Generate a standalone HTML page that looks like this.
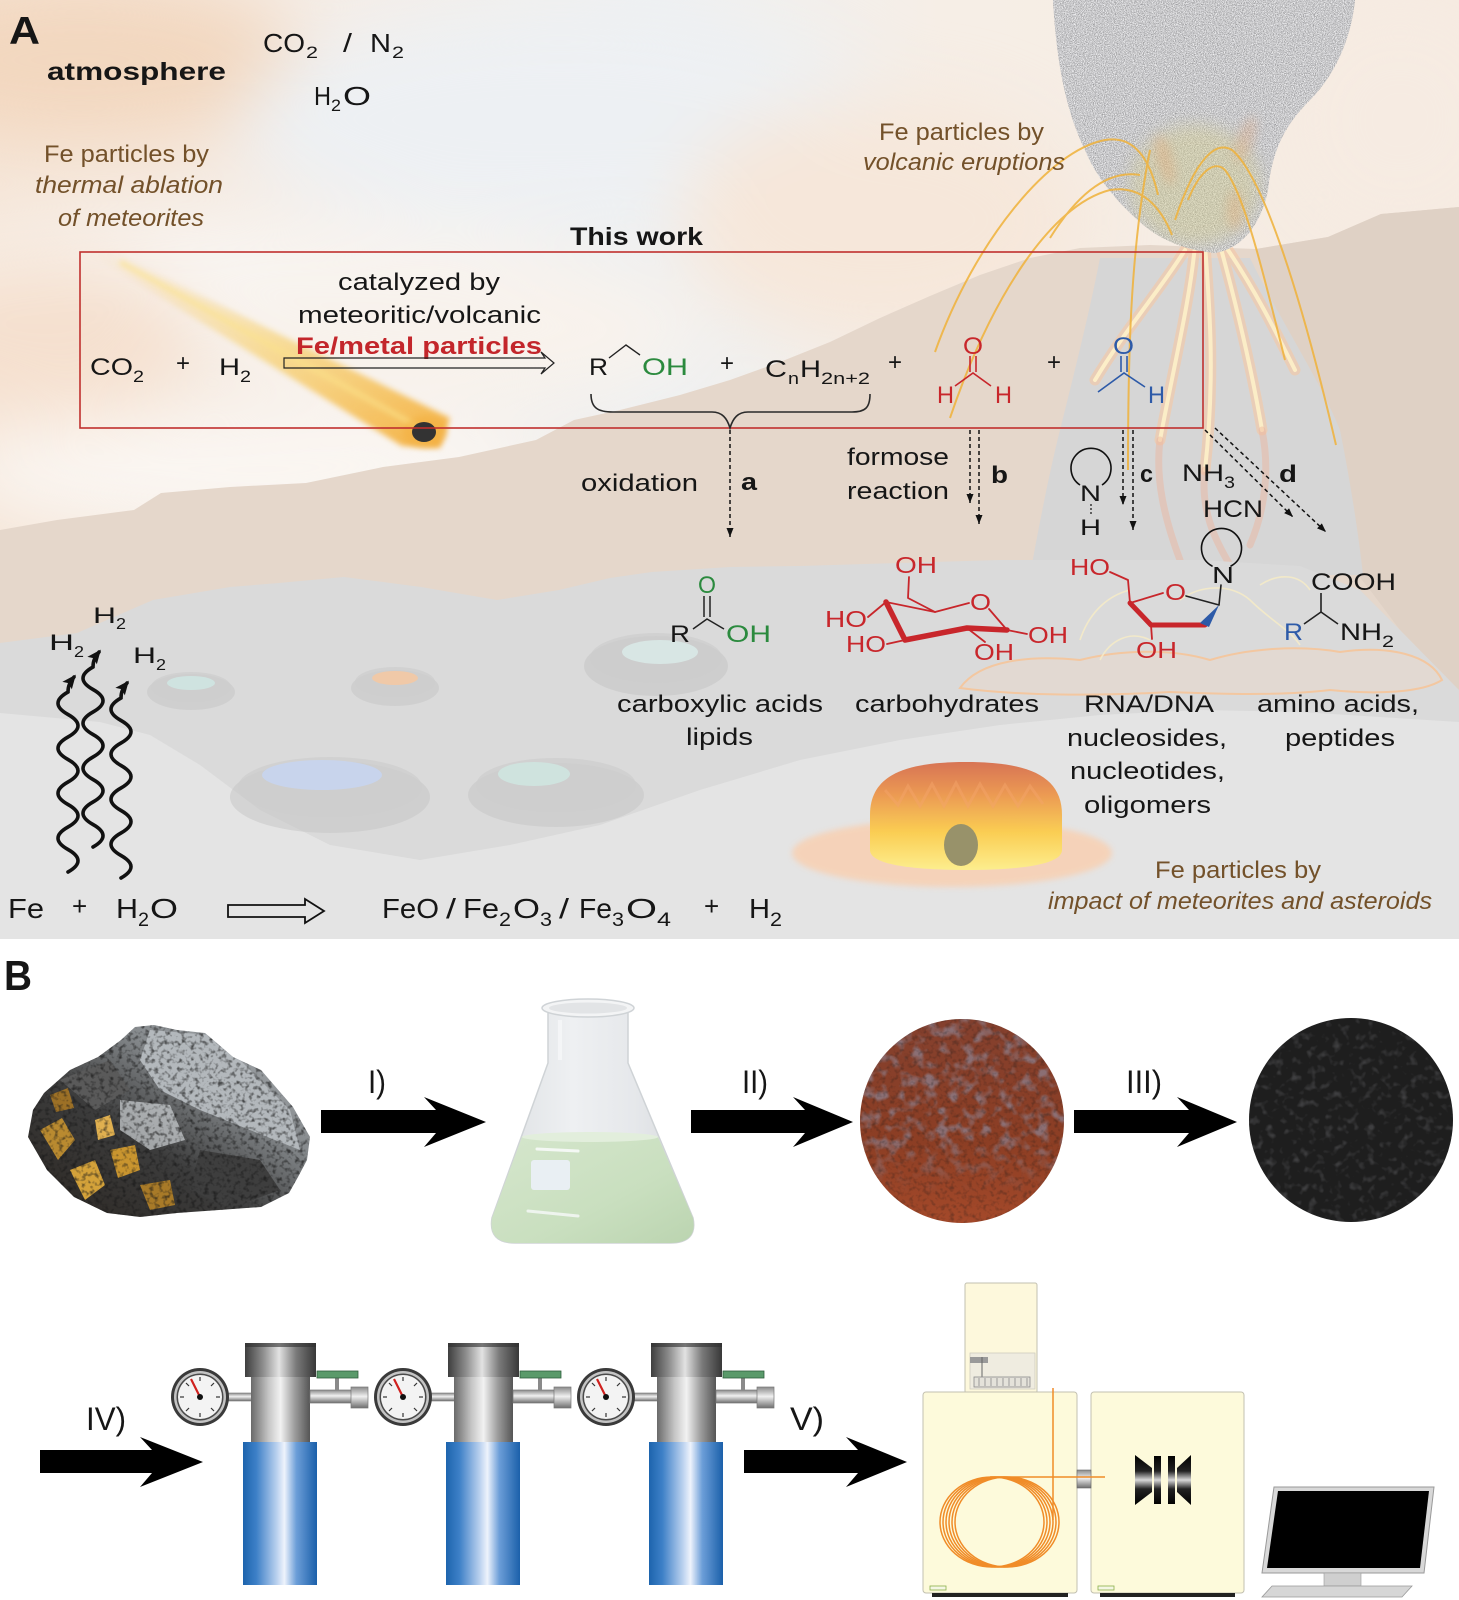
<!DOCTYPE html>
<html><head><meta charset="utf-8"><style>
html,body{margin:0;padding:0;background:#fff;}
svg{display:block;}
text{font-family:"Liberation Sans",Arial,sans-serif;fill:#161616;}
.b{font-weight:bold;}
.i{font-style:italic;}
.br{fill:#73512a;}
.rd{fill:#c8262b;}
.gr{fill:#2b8a3e;}
.bl{fill:#2d5aa8;}
</style></head><body>
<svg width="1459" height="1600" viewBox="0 0 1459 1600" xmlns="http://www.w3.org/2000/svg">
<defs>
 <clipPath id="clipA"><rect x="0" y="0" width="1459" height="939"/></clipPath>
 <linearGradient id="sky" x1="0" y1="0" x2="1" y2="0">
  <stop offset="0" stop-color="#f6e6d8"/><stop offset="0.25" stop-color="#f5eee8"/>
  <stop offset="0.45" stop-color="#eff1f2"/><stop offset="0.65" stop-color="#f6eee6"/>
  <stop offset="1" stop-color="#f6ebe1"/>
 </linearGradient>
 <filter id="bigblur" x="-50%" y="-50%" width="200%" height="200%" color-interpolation-filters="sRGB"><feGaussianBlur stdDeviation="35"/></filter>
 <filter id="blur8" x="-50%" y="-50%" width="200%" height="200%" color-interpolation-filters="sRGB"><feGaussianBlur stdDeviation="8"/></filter>
 <filter id="blur5" x="-50%" y="-50%" width="200%" height="200%" color-interpolation-filters="sRGB"><feGaussianBlur stdDeviation="5"/></filter>
 <filter id="blur3" x="-50%" y="-50%" width="200%" height="200%" color-interpolation-filters="sRGB"><feGaussianBlur stdDeviation="3"/></filter>
 <filter id="noiseGray" x="0" y="0" width="100%" height="100%" color-interpolation-filters="sRGB">
  <feTurbulence type="fractalNoise" baseFrequency="1.1" numOctaves="2" seed="4"/>
  <feColorMatrix type="matrix" values="0.9 0 0 0 0.34  0.9 0 0 0 0.34  0.9 0 0 0 0.35  0 0 0 0 1"/>
 </filter>
 <filter id="speckDark" x="0" y="0" width="100%" height="100%" color-interpolation-filters="sRGB">
  <feTurbulence type="fractalNoise" baseFrequency="0.22" numOctaves="2" seed="7"/>
  <feColorMatrix type="matrix" values="0 0 0 0 0.1  0 0 0 0 0.1  0 0 0 0 0.1  3 0 0 0 -1.45"/>
 </filter>
 <filter id="speckLight" x="0" y="0" width="100%" height="100%" color-interpolation-filters="sRGB">
  <feTurbulence type="fractalNoise" baseFrequency="0.12" numOctaves="2" seed="11"/>
  <feColorMatrix type="matrix" values="0 0 0 0 0.33  0 0 0 0 0.33  0 0 0 0 0.34  3.2 0 0 0 -1.7"/>
 </filter>
 <filter id="speckGrayFlake" x="0" y="0" width="100%" height="100%" color-interpolation-filters="sRGB">
  <feTurbulence type="fractalNoise" baseFrequency="0.08" numOctaves="2" seed="21"/>
  <feColorMatrix type="matrix" values="0 0 0 0 0.55  0 0 0 0 0.46  0 0 0 0 0.49  4 0 0 0 -1.9"/>
 </filter>
 <linearGradient id="fadeG" x1="0" y1="0" x2="0" y2="1">
  <stop offset="0" stop-color="#fff"/><stop offset="0.55" stop-color="#fff"/><stop offset="0.8" stop-color="#000"/>
 </linearGradient>
 <mask id="fadeMask" maskUnits="userSpaceOnUse" x="850" y="1010" width="230" height="230">
  <rect x="850" y="1010" width="230" height="230" fill="url(#fadeG)"/>
 </mask>
 <clipPath id="plumeClip"><path d="M1053,0 L1355,0 C1352,30 1340,70 1310,100 C1285,125 1272,150 1268,190 C1262,220 1245,248 1215,253 C1185,250 1160,240 1140,222 C1115,200 1095,175 1085,150 C1068,115 1057,70 1053,0 Z"/></clipPath>
 <linearGradient id="fire" x1="0" y1="0" x2="0" y2="1">
  <stop offset="0" stop-color="#d66a48"/><stop offset="0.3" stop-color="#ec9346"/>
  <stop offset="0.65" stop-color="#fbcd4a"/><stop offset="1" stop-color="#fdf08a"/>
 </linearGradient>
 <linearGradient id="meteorG" x1="0" y1="0" x2="1" y2="1">
  <stop offset="0" stop-color="#f7d070" stop-opacity="0"/><stop offset="0.5" stop-color="#f6c443" stop-opacity="0.5"/>
  <stop offset="1" stop-color="#f3a830" stop-opacity="0.9"/>
 </linearGradient>
 <marker id="ah" markerWidth="9" markerHeight="7" refX="9" refY="3.5" orient="auto" markerUnits="userSpaceOnUse" viewBox="0 0 9 7">
  <path d="M0,0 L9,3.5 L0,7 Z" fill="#111"/>
 </marker>
 <marker id="ahw" markerWidth="14" markerHeight="12" refX="11" refY="6" orient="auto" markerUnits="userSpaceOnUse" viewBox="0 0 14 12">
  <path d="M0,0 L14,6 L0,12 L3,6 Z" fill="#111"/>
 </marker>
 <!-- panel B gradients -->
 <linearGradient id="rockG" x1="1" y1="0" x2="0" y2="1">
  <stop offset="0" stop-color="#b4b9bd"/><stop offset="0.35" stop-color="#85898c"/>
  <stop offset="0.6" stop-color="#3c3c3c"/><stop offset="1" stop-color="#2a2520"/>
 </linearGradient>
 <linearGradient id="glassG" x1="0" y1="0" x2="1" y2="0">
  <stop offset="0" stop-color="#dcdfe2"/><stop offset="0.4" stop-color="#eef0f2"/>
  <stop offset="0.7" stop-color="#e6e8eb"/><stop offset="1" stop-color="#d7dadd"/>
 </linearGradient>
 <linearGradient id="liqG" x1="0" y1="0" x2="1" y2="1">
  <stop offset="0" stop-color="#d5e6cc"/><stop offset="0.6" stop-color="#c9dfbf"/><stop offset="1" stop-color="#bbd4b0"/>
 </linearGradient>
 <linearGradient id="redG" x1="0" y1="0" x2="0" y2="1">
  <stop offset="0" stop-color="#84402e"/><stop offset="0.6" stop-color="#8c3e24"/><stop offset="1" stop-color="#a4492a"/>
 </linearGradient>
 <linearGradient id="capG" x1="0" y1="0" x2="1" y2="0">
  <stop offset="0" stop-color="#3e3e3e"/><stop offset="0.25" stop-color="#8c8c8c"/>
  <stop offset="0.48" stop-color="#e2e2e2"/><stop offset="0.72" stop-color="#7a7a7a"/><stop offset="1" stop-color="#383838"/>
 </linearGradient>
 <linearGradient id="bodyG" x1="0" y1="0" x2="1" y2="0">
  <stop offset="0" stop-color="#6a6a6a"/><stop offset="0.3" stop-color="#c6c6c6"/>
  <stop offset="0.5" stop-color="#f2f2f2"/><stop offset="0.75" stop-color="#9a9a9a"/><stop offset="1" stop-color="#555"/>
 </linearGradient>
 <linearGradient id="blueG" x1="0" y1="0" x2="1" y2="0">
  <stop offset="0" stop-color="#1d64ad"/><stop offset="0.18" stop-color="#3d80c7"/>
  <stop offset="0.45" stop-color="#b7cfee"/><stop offset="0.56" stop-color="#eef3fc"/>
  <stop offset="0.72" stop-color="#6c9ed8"/><stop offset="1" stop-color="#1b60aa"/>
 </linearGradient>
 <linearGradient id="pipeG" x1="0" y1="0" x2="0" y2="1">
  <stop offset="0" stop-color="#8a8a8a"/><stop offset="0.45" stop-color="#f0f0f0"/><stop offset="1" stop-color="#6e6e6e"/>
 </linearGradient>
 <linearGradient id="quadG" x1="0" y1="0" x2="0" y2="1">
  <stop offset="0" stop-color="#000"/><stop offset="0.32" stop-color="#222"/>
  <stop offset="0.5" stop-color="#d8d8d8"/><stop offset="0.68" stop-color="#222"/><stop offset="1" stop-color="#000"/>
 </linearGradient>
 <g id="reactor">
  <rect x="224" y="1393" width="28" height="8" fill="url(#pipeG)" stroke="#777" stroke-width="0.6"/>
  <circle cx="200" cy="1397" r="29" fill="#3a3a3a"/>
  <circle cx="200" cy="1397" r="26" fill="#c4c4c4"/>
  <circle cx="200" cy="1397" r="23.5" fill="#4a4a4a"/>
  <circle cx="200" cy="1397" r="22" fill="#f3f3f3"/>
  <g stroke="#333" stroke-width="1.2">
   <line x1="200" y1="1377" x2="200" y2="1381"/><line x1="200" y1="1413" x2="200" y2="1417"/>
   <line x1="180" y1="1397" x2="184" y2="1397"/><line x1="216" y1="1397" x2="220" y2="1397"/>
   <line x1="186" y1="1383" x2="189" y2="1386"/><line x1="214" y1="1383" x2="211" y2="1386"/>
   <line x1="186" y1="1411" x2="189" y2="1408"/><line x1="214" y1="1411" x2="211" y2="1408"/>
  </g>
  <line x1="200" y1="1397" x2="191" y2="1379" stroke="#d0201e" stroke-width="2.2"/>
  <circle cx="200" cy="1397" r="3" fill="#111"/>
  <rect x="243" y="1442" width="74" height="143" fill="url(#blueG)"/>
  <rect x="251" y="1377" width="59" height="65" fill="url(#bodyG)"/>
  <rect x="245" y="1343" width="71" height="34" fill="url(#capG)"/>
  <rect x="245" y="1343" width="71" height="4" fill="#2e2e2e" opacity="0.6"/>
  <rect x="310" y="1390" width="44" height="13" fill="url(#pipeG)" stroke="#777" stroke-width="0.7"/>
  <rect x="351" y="1387" width="17" height="21" fill="url(#pipeG)" stroke="#777" stroke-width="0.7"/>
  <rect x="335" y="1377" width="4" height="13" fill="#8a8a8a"/>
  <rect x="317" y="1371" width="41" height="7" fill="#5a9a6a" stroke="#2f5f3c" stroke-width="0.8"/>
 </g>
</defs>

<!-- ================= PANEL A ================= -->
<g clip-path="url(#clipA)">
 <rect x="0" y="0" width="1459" height="939" fill="url(#sky)"/>
 <g filter="url(#bigblur)">
  <ellipse cx="80" cy="60" rx="220" ry="80" fill="#f2d7bf"/>
  <ellipse cx="560" cy="120" rx="320" ry="110" fill="#edf0f3"/>
  <ellipse cx="230" cy="265" rx="330" ry="45" fill="#f8f5f2"/>
  <ellipse cx="40" cy="340" rx="150" ry="80" fill="#f5e0cf"/>
  <ellipse cx="250" cy="470" rx="300" ry="60" fill="#faf6f2"/>
  <ellipse cx="450" cy="330" rx="250" ry="70" fill="#f8f2ec"/>
  <ellipse cx="880" cy="220" rx="200" ry="120" fill="#f6e7da"/>
  <ellipse cx="1400" cy="120" rx="120" ry="120" fill="#f6ebe2"/>
 </g>

 <!-- tan hills -->
 <path d="M0,530 L57,520 L134,510 L161,493 L230,487 L306,483 L383,467 L459,457 L536,440 L574,420 L620,410 L680,395 L730,380 L780,362 L830,342 L880,318 L930,296 L980,275 L1030,258 L1080,248 L1150,245 L1256,249 L1328,237 L1381,214 L1459,207 L1459,939 L0,939 Z" fill="#e5d7cb"/>
 <path d="M1256,249 L1328,237 L1381,214 L1459,207 L1459,700 L1400,630 L1370,590 L1350,565 Z" fill="#dfd1c5"/>

 <!-- volcano cone -->
 <path d="M1100,258 L1250,258 C1280,320 1320,380 1340,430 C1350,480 1358,530 1363,575 L1030,575 C1040,520 1050,470 1060,430 C1075,370 1090,310 1100,258 Z" fill="#d6d6d6"/>

 <!-- lava -->
 <g fill="none" stroke-linecap="round">
  <g stroke="#f6c8a4" stroke-width="11" opacity="0.6">
   <path d="M1195,245 C1190,300 1175,360 1160,440"/>
   <path d="M1205,245 C1210,310 1215,380 1205,470"/>
   <path d="M1220,245 C1235,300 1250,360 1262,430"/>
   <path d="M1185,250 C1160,290 1125,330 1095,380"/>
   <path d="M1228,250 C1255,290 1275,330 1295,370"/>
  </g>
  <g stroke="#fdefc8" stroke-width="4" opacity="0.95">
   <path d="M1195,245 C1190,300 1175,360 1160,440"/>
   <path d="M1205,245 C1210,310 1215,380 1205,470"/>
   <path d="M1220,245 C1235,300 1250,360 1262,430"/>
   <path d="M1185,250 C1160,290 1125,330 1095,380"/>
   <path d="M1228,250 C1255,290 1275,330 1295,370"/>
  </g>
  <g stroke="#eeb49c" stroke-width="7" opacity="0.45">
   <path d="M1160,440 C1155,480 1165,520 1180,560"/>
   <path d="M1205,470 C1200,510 1215,540 1230,565"/>
   <path d="M1262,430 C1270,470 1265,510 1250,545"/>
  </g>
 </g>

 <!-- gray ground -->
 <path d="M0,643 L77,633 L153,600 L230,587 L279,583 L344,577 L421,587 L497,600 L559,590 L610,578 L652,572 L730,567 L800,566 L900,563 L1000,560 L1100,560 L1200,560 L1300,566 L1360,590 L1400,630 L1459,690 L1459,939 L0,939 Z" fill="#dadada"/>
 <path d="M0,713 L100,722 L150,735 L200,765 L260,810 L330,845 L420,860 L510,845 L600,825 L700,790 L800,760 L900,740 L1000,725 L1100,715 L1200,710 L1300,712 L1459,722 L1459,939 L0,939 Z" fill="#e4e4e4"/>

 <!-- craters -->
 <g>
  <ellipse cx="191" cy="692" rx="44" ry="18" fill="#c6c6c6" opacity="0.55"/>
  <ellipse cx="191" cy="687" rx="40" ry="15" fill="#cdcdcd" opacity="0.7"/>
  <ellipse cx="191" cy="683" rx="24" ry="7" fill="#cfe3e0"/>
  <ellipse cx="395" cy="688" rx="44" ry="18" fill="#c6c6c6" opacity="0.55"/>
  <ellipse cx="395" cy="682" rx="40" ry="15" fill="#cdcdcd" opacity="0.7"/>
  <ellipse cx="395" cy="678" rx="23" ry="7" fill="#f0c9a8"/>
  <ellipse cx="656" cy="666" rx="72" ry="30" fill="#c4c4c4" opacity="0.55"/>
  <ellipse cx="656" cy="658" rx="66" ry="25" fill="#cdcdcd" opacity="0.7"/>
  <ellipse cx="660" cy="652" rx="38" ry="12" fill="#d8e6e4"/>
  <ellipse cx="330" cy="797" rx="100" ry="36" fill="#c6c6c6" opacity="0.55"/>
  <ellipse cx="330" cy="787" rx="92" ry="30" fill="#cdcdcd" opacity="0.7"/>
  <ellipse cx="322" cy="775" rx="60" ry="15" fill="#c8d4ec"/>
  <ellipse cx="556" cy="795" rx="88" ry="32" fill="#c6c6c6" opacity="0.55"/>
  <ellipse cx="556" cy="785" rx="80" ry="27" fill="#cdcdcd" opacity="0.7"/>
  <ellipse cx="534" cy="774" rx="36" ry="12" fill="#cfe3de"/>
 </g>

 <!-- rocks near amino acids -->
 <g fill="#ecd8c8" fill-opacity="0.45" stroke="#f3c7a0" stroke-width="2">
  <path d="M960,688 C980,660 1030,655 1080,660 C1120,650 1170,648 1210,660 C1250,648 1300,645 1340,652 C1390,645 1430,655 1442,680 C1420,694 1370,694 1330,690 C1280,696 1220,694 1170,692 C1100,696 1020,696 960,688 Z"/>
 </g>
 <g fill="none" stroke="#f5ebc8" stroke-width="1.6" opacity="0.9">
  <path d="M1080,640 C1090,610 1110,595 1130,590"/>
  <path d="M1180,600 C1200,585 1230,583 1250,600 C1270,620 1290,630 1300,645"/>
  <path d="M1260,585 C1280,572 1300,575 1310,590"/>
  <path d="M1100,660 C1110,640 1130,630 1150,640"/>
 </g>

 <!-- plume -->
 <rect x="1040" y="0" width="330" height="260" fill="#c2c2c2" clip-path="url(#plumeClip)"/>
 <g clip-path="url(#plumeClip)">
  <rect x="1040" y="0" width="330" height="260" filter="url(#noiseGray)" opacity="0.85"/>
  <ellipse cx="1195" cy="185" rx="65" ry="60" fill="#d8cf8c" opacity="0.4" filter="url(#blur8)"/>
  <ellipse cx="1165" cy="160" rx="8" ry="26" fill="#e9a06a" opacity="0.3" filter="url(#blur5)" transform="rotate(-15 1165 160)"/>
  <ellipse cx="1245" cy="140" rx="8" ry="24" fill="#e9a06a" opacity="0.28" filter="url(#blur5)" transform="rotate(20 1245 140)"/>
  <ellipse cx="1235" cy="210" rx="8" ry="20" fill="#e9a06a" opacity="0.28" filter="url(#blur5)"/>
 </g>

 <!-- orange arcs -->
 <g fill="none" stroke="#f0b23a" stroke-width="2" opacity="0.85">
  <path d="M935,352 C975,240 1050,150 1105,140 C1135,135 1150,160 1158,195"/>
  <path d="M950,418 C990,300 1050,205 1110,190 C1140,185 1160,205 1172,235"/>
  <path d="M1128,470 C1128,360 1130,250 1150,150"/>
  <path d="M1175,220 C1195,160 1215,140 1232,150 C1262,175 1300,290 1336,445"/>
  <path d="M1188,200 C1200,170 1215,160 1225,170 C1245,195 1265,280 1285,360"/>
  <path d="M1050,238 C1080,190 1110,170 1140,175"/>
 </g>

 <!-- meteor -->
 <g filter="url(#blur3)">
  <polygon points="88,252 112,252 450,418 440,448 402,446" fill="url(#meteorG)"/>
  <line x1="120" y1="262" x2="420" y2="428" stroke="#fbe28a" stroke-width="5" opacity="0.7"/>
 </g>
 <ellipse cx="425" cy="432" rx="22" ry="16" fill="#f3b040" opacity="0.55" filter="url(#blur3)"/>
 <ellipse cx="424" cy="432" rx="12" ry="10" fill="#333"/>

 <!-- impact fireball -->
 <ellipse cx="952" cy="853" rx="160" ry="34" fill="#f8d0b2" opacity="0.85" filter="url(#blur3)"/>
 <path d="M870,850 L870,815 C870,775 905,762 966,762 C1027,762 1062,775 1062,815 L1062,850 C1062,866 1012,870 966,870 C920,870 870,866 870,850 Z" fill="url(#fire)" opacity="0.92"/>
 <path d="M885,790 L898,805 L908,786 L920,806 L932,784 L944,806 L956,783 L968,806 L980,784 L993,806 L1005,785 L1018,806 L1030,786 L1043,804" fill="none" stroke="#f3a36a" stroke-width="3" opacity="0.5"/>
 <ellipse cx="961" cy="845" rx="17" ry="21" fill="#98926a"/>
</g>

<!-- Panel A text -->
<text x="9" y="44" class="b" font-size="39" textLength="31" lengthAdjust="spacingAndGlyphs">A</text>
<text x="47" y="80" class="b" font-size="25" textLength="179" lengthAdjust="spacingAndGlyphs">atmosphere</text>
<text x="263" y="52" font-size="26" textLength="42" lengthAdjust="spacingAndGlyphs">CO</text>
<text x="306" y="58" font-size="17" textLength="12" lengthAdjust="spacingAndGlyphs">2</text>
<text x="343" y="52" font-size="26" textLength="9" lengthAdjust="spacingAndGlyphs">/</text>
<text x="370" y="52" font-size="26" textLength="21" lengthAdjust="spacingAndGlyphs">N</text>
<text x="392" y="58" font-size="17" textLength="12" lengthAdjust="spacingAndGlyphs">2</text>
<text x="314" y="105" font-size="26" textLength="17" lengthAdjust="spacingAndGlyphs">H</text>
<text x="331" y="111" font-size="17" textLength="10" lengthAdjust="spacingAndGlyphs">2</text>
<text x="343" y="105" font-size="26" textLength="28" lengthAdjust="spacingAndGlyphs">O</text>

<text x="44" y="162" class="br" font-size="24" textLength="165" lengthAdjust="spacingAndGlyphs">Fe particles by</text>
<text x="35" y="193" class="br i" font-size="24" textLength="188" lengthAdjust="spacingAndGlyphs">thermal ablation</text>
<text x="58" y="226" class="br i" font-size="24" textLength="146" lengthAdjust="spacingAndGlyphs">of meteorites</text>
<text x="879" y="140" class="br" font-size="24" textLength="165" lengthAdjust="spacingAndGlyphs">Fe particles by</text>
<text x="863" y="170" class="br i" font-size="24" textLength="202" lengthAdjust="spacingAndGlyphs">volcanic eruptions</text>
<text x="1155" y="878" class="br" font-size="24" textLength="166" lengthAdjust="spacingAndGlyphs">Fe particles by</text>
<text x="1048" y="909" class="br i" font-size="24" textLength="384" lengthAdjust="spacingAndGlyphs">impact of meteorites and asteroids</text>

<!-- red box -->
<rect x="80" y="252" width="1123" height="176" fill="none" stroke="#c0302e" stroke-width="1.6"/>
<text x="570" y="245" class="b" font-size="25" textLength="133" lengthAdjust="spacingAndGlyphs">This work</text>
<text x="338" y="290" font-size="24" textLength="162" lengthAdjust="spacingAndGlyphs">catalyzed by</text>
<text x="298" y="323" font-size="24" textLength="243" lengthAdjust="spacingAndGlyphs">meteoritic/volcanic</text>
<text x="296" y="354" class="b" font-size="24" textLength="246" lengthAdjust="spacingAndGlyphs" style="fill:#c3262b">Fe/metal particles</text>
<path d="M284,358 L545,358 L541,352 L554,363 L541,374 L545,368 L284,368 Z" fill="none" stroke="#222" stroke-width="1.2"/>
<text x="90" y="375" font-size="24" textLength="43" lengthAdjust="spacingAndGlyphs">CO</text>
<text x="133" y="382" font-size="17" textLength="11" lengthAdjust="spacingAndGlyphs">2</text>
<text x="176" y="371" font-size="24">+</text>
<text x="219" y="375" font-size="24" textLength="21" lengthAdjust="spacingAndGlyphs">H</text>
<text x="240" y="382" font-size="17" textLength="11" lengthAdjust="spacingAndGlyphs">2</text>
<text x="589" y="375" font-size="24" textLength="19" lengthAdjust="spacingAndGlyphs">R</text>
<path d="M609,358 L626,345 L640,355" fill="none" stroke="#222" stroke-width="1.4"/>
<text x="642" y="375" class="gr" font-size="24" textLength="46" lengthAdjust="spacingAndGlyphs">OH</text>
<text x="720" y="371" font-size="24">+</text>
<text x="765" y="377" font-size="24" textLength="22" lengthAdjust="spacingAndGlyphs">C</text>
<text x="788" y="384" font-size="17" textLength="11" lengthAdjust="spacingAndGlyphs">n</text>
<text x="800" y="377" font-size="24" textLength="21" lengthAdjust="spacingAndGlyphs">H</text>
<text x="821" y="384" font-size="17" textLength="49" lengthAdjust="spacingAndGlyphs">2n+2</text>
<text x="888" y="370" font-size="24">+</text>
<!-- formaldehyde -->
<text x="963" y="354" class="rd" font-size="24" textLength="20" lengthAdjust="spacingAndGlyphs">O</text>
<g stroke="#c8262b" stroke-width="1.6" fill="none">
 <line x1="970" y1="356" x2="970" y2="372"/><line x1="976" y1="356" x2="976" y2="372"/>
 <path d="M955,386 L973,373 L991,386"/>
</g>
<text x="937" y="403" class="rd" font-size="24" textLength="17" lengthAdjust="spacingAndGlyphs">H</text>
<text x="995" y="403" class="rd" font-size="24" textLength="17" lengthAdjust="spacingAndGlyphs">H</text>
<text x="1047" y="370" font-size="24">+</text>
<!-- acetaldehyde -->
<text x="1113" y="354" class="bl" font-size="24" textLength="21" lengthAdjust="spacingAndGlyphs">O</text>
<g stroke="#2d5aa8" stroke-width="1.6" fill="none">
 <line x1="1121" y1="356" x2="1121" y2="372"/><line x1="1127" y1="356" x2="1127" y2="372"/>
 <path d="M1098,392 L1124,373 L1145,387"/>
</g>
<text x="1148" y="403" class="bl" font-size="24" textLength="17" lengthAdjust="spacingAndGlyphs">H</text>

<!-- brace -->
<path d="M591,394 C591,408 598,412 613,412 L712,412 C722,412 727,418 730,428 C733,418 738,412 748,412 L852,412 C865,412 870,408 870,394" fill="none" stroke="#2a2a2a" stroke-width="1.6"/>

<!-- dashed arrows -->
<g stroke="#111" stroke-width="1.5" stroke-dasharray="4 3" fill="none">
 <line x1="730" y1="430" x2="730" y2="537" marker-end="url(#ah)"/>
 <line x1="970" y1="430" x2="970" y2="503" marker-end="url(#ah)"/>
 <line x1="979" y1="430" x2="979" y2="524" marker-end="url(#ah)"/>
 <line x1="1123" y1="430" x2="1123" y2="505" marker-end="url(#ah)"/>
 <line x1="1133" y1="430" x2="1133" y2="530" marker-end="url(#ah)"/>
 <line x1="1205" y1="430" x2="1293" y2="517" marker-end="url(#ah)"/>
 <line x1="1215" y1="428" x2="1326" y2="532" marker-end="url(#ah)"/>
</g>
<text x="581" y="491" font-size="24" textLength="117" lengthAdjust="spacingAndGlyphs">oxidation</text>
<text x="741" y="490" class="b" font-size="24" textLength="16" lengthAdjust="spacingAndGlyphs">a</text>
<text x="847" y="465" font-size="24" textLength="102" lengthAdjust="spacingAndGlyphs">formose</text>
<text x="847" y="499" font-size="24" textLength="102" lengthAdjust="spacingAndGlyphs">reaction</text>
<text x="991" y="483" class="b" font-size="24" textLength="17" lengthAdjust="spacingAndGlyphs">b</text>
<path d="M1080,485 A20,20 0 1 1 1102,485" fill="none" stroke="#111" stroke-width="1.6"/>
<text x="1080" y="501" font-size="22" textLength="21" lengthAdjust="spacingAndGlyphs">N</text>
<line x1="1091" y1="504" x2="1091" y2="515" stroke="#111" stroke-width="1.2" stroke-dasharray="2 2"/>
<text x="1080" y="535" font-size="22" textLength="21" lengthAdjust="spacingAndGlyphs">H</text>
<text x="1140" y="482" class="b" font-size="24" textLength="13" lengthAdjust="spacingAndGlyphs">c</text>
<text x="1182" y="481" font-size="24" textLength="42" lengthAdjust="spacingAndGlyphs">NH</text>
<text x="1224" y="488" font-size="17" textLength="11" lengthAdjust="spacingAndGlyphs">3</text>
<text x="1203" y="517" font-size="24" textLength="60" lengthAdjust="spacingAndGlyphs">HCN</text>
<text x="1279" y="482" class="b" font-size="24" textLength="18" lengthAdjust="spacingAndGlyphs">d</text>

<!-- carboxylic acid -->
<text x="698" y="593" class="gr" font-size="24" textLength="18" lengthAdjust="spacingAndGlyphs">O</text>
<g stroke="#222" stroke-width="1.5" fill="none">
 <line x1="704" y1="596" x2="704" y2="617"/><line x1="710" y1="596" x2="710" y2="617"/>
 <path d="M693,629 L707,619 L724,629"/>
</g>
<text x="670" y="642" font-size="24" textLength="20" lengthAdjust="spacingAndGlyphs">R</text>
<text x="726" y="642" class="gr" font-size="24" textLength="45" lengthAdjust="spacingAndGlyphs">OH</text>

<!-- glucose -->
<g stroke="#c8262b" fill="none" stroke-linecap="round" stroke-linejoin="round">
 <path d="M935,612 L908,598 L909,577" stroke-width="1.8"/>
 <path d="M886,602 L935,612 L969,603" stroke-width="1.8"/>
 <path d="M989,609 L1007,630 L1027,634" stroke-width="1.8"/>
 <path d="M868,617 L886,602" stroke-width="1.8"/>
 <path d="M887,644 L905,640" stroke-width="1.8"/>
 <path d="M967,628 L985,642" stroke-width="1.8"/>
 <path d="M886,602 L905,640 L967,628 L1007,630" stroke-width="5.5"/>
</g>
<text x="895" y="573" class="rd" font-size="23" textLength="42" lengthAdjust="spacingAndGlyphs">OH</text>
<text x="970" y="610" class="rd" font-size="23" textLength="21" lengthAdjust="spacingAndGlyphs">O</text>
<text x="825" y="627" class="rd" font-size="23" textLength="42" lengthAdjust="spacingAndGlyphs">HO</text>
<text x="846" y="652" class="rd" font-size="23" textLength="40" lengthAdjust="spacingAndGlyphs">HO</text>
<text x="974" y="660" class="rd" font-size="23" textLength="40" lengthAdjust="spacingAndGlyphs">OH</text>
<text x="1028" y="643" class="rd" font-size="23" textLength="40" lengthAdjust="spacingAndGlyphs">OH</text>

<!-- nucleoside -->
<g fill="none" stroke-linecap="round" stroke-linejoin="round">
 <path d="M1110,572 L1128,580 L1130,603 L1163,593" stroke="#c8262b" stroke-width="1.8"/>
 <path d="M1186,596 L1219,605 L1221,585" stroke="#222" stroke-width="1.6"/>
 <path d="M1205,625 L1151,625 L1130,603" stroke="#c8262b" stroke-width="5"/>
 <path d="M1151,625 L1152,639" stroke="#c8262b" stroke-width="1.8"/>
 <path d="M1212,566 A20,20 0 1 1 1231,566" stroke="#111" stroke-width="1.6"/>
</g>
<polygon points="1219,605 1200,623 1209,627" fill="#2d5aa8"/>
<text x="1070" y="575" class="rd" font-size="23" textLength="40" lengthAdjust="spacingAndGlyphs">HO</text>
<text x="1165" y="600" class="rd" font-size="23" textLength="21" lengthAdjust="spacingAndGlyphs">O</text>
<text x="1212" y="583" font-size="23" textLength="22" lengthAdjust="spacingAndGlyphs">N</text>
<text x="1136" y="658" class="rd" font-size="23" textLength="41" lengthAdjust="spacingAndGlyphs">OH</text>

<!-- amino acid -->
<g stroke="#222" stroke-width="1.6" fill="none">
 <path d="M1321,593 L1321,612 L1304,624"/>
 <path d="M1321,612 L1338,624"/>
</g>
<text x="1311" y="590" font-size="24" textLength="85" lengthAdjust="spacingAndGlyphs">COOH</text>
<text x="1284" y="640" class="bl" font-size="24" textLength="19" lengthAdjust="spacingAndGlyphs">R</text>
<text x="1340" y="640" font-size="24" textLength="42" lengthAdjust="spacingAndGlyphs">NH</text>
<text x="1382" y="647" font-size="17" textLength="12" lengthAdjust="spacingAndGlyphs">2</text>

<!-- product labels -->
<text x="617" y="712" font-size="24" textLength="206" lengthAdjust="spacingAndGlyphs">carboxylic acids</text>
<text x="686" y="745" font-size="24" textLength="67" lengthAdjust="spacingAndGlyphs">lipids</text>
<text x="855" y="712" font-size="24" textLength="184" lengthAdjust="spacingAndGlyphs">carbohydrates</text>
<text x="1084" y="712" font-size="24" textLength="130" lengthAdjust="spacingAndGlyphs">RNA/DNA</text>
<text x="1067" y="746" font-size="24" textLength="160" lengthAdjust="spacingAndGlyphs">nucleosides,</text>
<text x="1070" y="779" font-size="24" textLength="155" lengthAdjust="spacingAndGlyphs">nucleotides,</text>
<text x="1084" y="813" font-size="24" textLength="127" lengthAdjust="spacingAndGlyphs">oligomers</text>
<text x="1257" y="712" font-size="24" textLength="162" lengthAdjust="spacingAndGlyphs">amino acids,</text>
<text x="1285" y="746" font-size="24" textLength="110" lengthAdjust="spacingAndGlyphs">peptides</text>

<!-- H2 wavy arrows -->
<g fill="none" stroke="#111" stroke-width="3.6" stroke-linecap="round">
 <path d="M68,872 q20,-11.25 0,-22.5 t0,-22.5 t0,-22.5 t0,-22.5 t0,-22.5 t0,-22.5 t0,-22.5 t0,-22.5 c0,-6 2,-10 6,-15" marker-end="url(#ahw)"/>
 <path d="M93,847 q20,-11.25 0,-22.5 t0,-22.5 t0,-22.5 t0,-22.5 t0,-22.5 t0,-22.5 t0,-22.5 t0,-22.5 c0,-6 2,-10 6,-15" marker-end="url(#ahw)"/>
 <path d="M121,878 q20,-11.25 0,-22.5 t0,-22.5 t0,-22.5 t0,-22.5 t0,-22.5 t0,-22.5 t0,-22.5 t0,-22.5 c0,-6 2,-10 6,-15" marker-end="url(#ahw)"/>
</g>
<text x="49" y="650" font-size="22" textLength="25" lengthAdjust="spacingAndGlyphs">H</text>
<text x="74" y="657" font-size="16" textLength="10" lengthAdjust="spacingAndGlyphs">2</text>
<text x="93" y="623" font-size="22" textLength="23" lengthAdjust="spacingAndGlyphs">H</text>
<text x="116" y="629" font-size="16" textLength="10" lengthAdjust="spacingAndGlyphs">2</text>
<text x="133" y="663" font-size="22" textLength="23" lengthAdjust="spacingAndGlyphs">H</text>
<text x="156" y="670" font-size="16" textLength="10" lengthAdjust="spacingAndGlyphs">2</text>

<!-- bottom equation -->
<text x="8" y="918" font-size="28" textLength="36" lengthAdjust="spacingAndGlyphs">Fe</text>
<text x="72" y="915" font-size="26">+</text>
<text x="116" y="918" font-size="28" textLength="22" lengthAdjust="spacingAndGlyphs">H</text>
<text x="138" y="926" font-size="19" textLength="11" lengthAdjust="spacingAndGlyphs">2</text>
<text x="150" y="918" font-size="28" textLength="28" lengthAdjust="spacingAndGlyphs">O</text>
<path d="M228,905 L305,905 L305,899 L324,911 L305,923 L305,917 L228,917 Z" fill="none" stroke="#111" stroke-width="1.8"/>
<text x="382" y="918" font-size="28" textLength="57" lengthAdjust="spacingAndGlyphs">FeO</text>
<text x="446" y="918" font-size="28" textLength="10" lengthAdjust="spacingAndGlyphs">/</text>
<text x="463" y="918" font-size="28" textLength="36" lengthAdjust="spacingAndGlyphs">Fe</text>
<text x="499" y="926" font-size="19" textLength="12" lengthAdjust="spacingAndGlyphs">2</text>
<text x="513" y="918" font-size="28" textLength="27" lengthAdjust="spacingAndGlyphs">O</text>
<text x="540" y="926" font-size="19" textLength="12" lengthAdjust="spacingAndGlyphs">3</text>
<text x="559" y="918" font-size="28" textLength="10" lengthAdjust="spacingAndGlyphs">/</text>
<text x="579" y="918" font-size="28" textLength="33" lengthAdjust="spacingAndGlyphs">Fe</text>
<text x="612" y="926" font-size="19" textLength="12" lengthAdjust="spacingAndGlyphs">3</text>
<text x="626" y="918" font-size="28" textLength="31" lengthAdjust="spacingAndGlyphs">O</text>
<text x="657" y="926" font-size="19" textLength="14" lengthAdjust="spacingAndGlyphs">4</text>
<text x="704" y="915" font-size="26">+</text>
<text x="749" y="918" font-size="28" textLength="21" lengthAdjust="spacingAndGlyphs">H</text>
<text x="770" y="926" font-size="19" textLength="12" lengthAdjust="spacingAndGlyphs">2</text>

<!-- ================= PANEL B ================= -->
<text x="4" y="990" class="b" font-size="42" textLength="28" lengthAdjust="spacingAndGlyphs">B</text>

<!-- meteorite rock -->
<clipPath id="rockClip"><polygon points="44,1093 70,1070 98,1057 121,1040 135,1027 154,1025 177,1030 205,1033 233,1057 261,1070 293,1107 310,1137 307,1160 298,1177 289,1193 261,1207 219,1210 177,1213 140,1217 107,1213 74,1197 47,1170 28,1137 33,1110"/></clipPath>
<g clip-path="url(#rockClip)">
 <rect x="20" y="1020" width="300" height="200" fill="url(#rockG)"/>
 <polygon points="150,1030 210,1035 240,1060 290,1110 300,1150 250,1130 200,1110 160,1090 140,1060" fill="#b3b8bc"/>
 <polygon points="60,1080 110,1060 130,1090 95,1110" fill="#5a5a5a"/>
 <polygon points="200,1150 260,1160 280,1190 230,1208 190,1190" fill="#3e3e3e"/>
 <polygon points="120,1100 170,1105 185,1140 150,1150 120,1130" fill="#cfd3d6" opacity="0.7"/>
 <polygon points="40,1130 62,1118 75,1140 58,1160" fill="#b98a30"/>
 <polygon points="70,1170 95,1160 105,1185 85,1200" fill="#d4a23a"/>
 <polygon points="110,1150 135,1145 140,1170 118,1178" fill="#c9952f"/>
 <polygon points="140,1185 170,1180 175,1205 150,1210" fill="#a87a28"/>
 <polygon points="50,1095 68,1088 74,1108 56,1112" fill="#9c7026"/>
 <polygon points="95,1120 110,1115 115,1135 98,1140" fill="#e0b050"/>
 <rect x="20" y="1020" width="300" height="200" filter="url(#speckDark)" opacity="0.7"/>
</g>

<!-- arrows I-III -->
<polygon points="321,1110 436,1110 424,1097 486,1122 424,1147 436,1133 321,1133" fill="#000"/>
<polygon points="691,1110 805,1110 793,1097 853,1122 793,1147 805,1133 691,1133" fill="#000"/>
<polygon points="1074,1110 1189,1110 1177,1097 1237,1122 1177,1147 1189,1133 1074,1133" fill="#000"/>
<text x="368" y="1093" font-size="32" textLength="18" lengthAdjust="spacingAndGlyphs">I)</text>
<text x="742" y="1093" font-size="32" textLength="26" lengthAdjust="spacingAndGlyphs">II)</text>
<text x="1126" y="1093" font-size="32" textLength="36" lengthAdjust="spacingAndGlyphs">III)</text>

<!-- flask -->
<path d="M548,1012 L548,1063 L492,1218 Q488,1243 515,1243 L670,1243 Q698,1243 693,1218 L628,1063 L628,1012 Z" fill="url(#glassG)" stroke="#cfd3d6" stroke-width="1.5"/>
<path d="M522,1137 L658,1137 L693,1218 Q698,1243 670,1243 L515,1243 Q488,1243 492,1218 Z" fill="url(#liqG)"/>
<ellipse cx="590" cy="1137" rx="68" ry="5" fill="#e2eedc"/>
<ellipse cx="588" cy="1008" rx="46" ry="9" fill="#f3f4f5" stroke="#cfd3d6" stroke-width="1.5"/>
<ellipse cx="588" cy="1008" rx="39" ry="5.5" fill="#e2e4e6"/>
<rect x="531" y="1160" width="39" height="30" rx="3" fill="#e9eff3"/>
<line x1="537" y1="1149" x2="578" y2="1151" stroke="#f4f8f4" stroke-width="3" stroke-linecap="round"/>
<line x1="528" y1="1211" x2="578" y2="1216" stroke="#eef4ee" stroke-width="3" stroke-linecap="round"/>
<line x1="560" y1="1020" x2="560" y2="1060" stroke="#f7f8f9" stroke-width="4" opacity="0.8"/>

<!-- red powder -->
<circle cx="962" cy="1121" r="102" fill="url(#redG)"/>
<clipPath id="redClip"><circle cx="962" cy="1121" r="102"/></clipPath>
<g clip-path="url(#redClip)">
 <g mask="url(#fadeMask)">
  <rect x="860" y="1019" width="204" height="204" filter="url(#speckGrayFlake)" opacity="0.9"/>
 </g>
 <rect x="860" y="1019" width="204" height="204" filter="url(#speckDark)" opacity="0.3"/>
</g>

<!-- black powder -->
<circle cx="1351" cy="1120" r="102" fill="#1e1e1e"/>
<clipPath id="blkClip"><circle cx="1351" cy="1120" r="102"/></clipPath>
<g clip-path="url(#blkClip)">
 <rect x="1249" y="1018" width="204" height="204" filter="url(#speckLight)" opacity="0.6"/>
</g>

<!-- arrows IV, V -->
<polygon points="40,1450 152,1450 140,1437 203,1462 140,1487 152,1473 40,1473" fill="#000"/>
<polygon points="744,1450 858,1450 846,1437 907,1462 846,1487 858,1473 744,1473" fill="#000"/>
<text x="86" y="1430" font-size="32" textLength="40" lengthAdjust="spacingAndGlyphs">IV)</text>
<text x="790" y="1430" font-size="32" textLength="34" lengthAdjust="spacingAndGlyphs">V)</text>

<!-- reactors -->
<use href="#reactor"/>
<use href="#reactor" transform="translate(203,0)"/>
<use href="#reactor" transform="translate(406,0)"/>

<!-- GC-MS -->
<rect x="965" y="1283" width="72" height="110" rx="2" fill="#fdf8dc" stroke="#c2c0b0" stroke-width="1"/>
<rect x="970" y="1353" width="65" height="36" fill="#efece0" stroke="#cfccc0" stroke-width="0.8"/>
<rect x="970" y="1357" width="18" height="6" fill="#9a9a9a"/>
<line x1="982" y1="1357" x2="982" y2="1380" stroke="#666" stroke-width="1"/>
<rect x="974" y="1377" width="56" height="10" fill="#e4e2da" stroke="#8a8a8a" stroke-width="0.8"/>
<g stroke="#888" stroke-width="0.8"><line x1="979" y1="1378" x2="979" y2="1386"/><line x1="985" y1="1378" x2="985" y2="1386"/><line x1="991" y1="1378" x2="991" y2="1386"/><line x1="997" y1="1378" x2="997" y2="1386"/><line x1="1003" y1="1378" x2="1003" y2="1386"/><line x1="1009" y1="1378" x2="1009" y2="1386"/><line x1="1015" y1="1378" x2="1015" y2="1386"/><line x1="1021" y1="1378" x2="1021" y2="1386"/><line x1="1027" y1="1378" x2="1027" y2="1386"/></g>
<rect x="923" y="1392" width="154" height="201" rx="3" fill="#fdfadb" stroke="#c2c0b0" stroke-width="1"/>
<rect x="1091" y="1392" width="153" height="201" rx="3" fill="#fdfadb" stroke="#c2c0b0" stroke-width="1"/>
<rect x="1077" y="1470" width="14" height="18" fill="url(#pipeG)" stroke="#666" stroke-width="0.6"/>
<rect x="932" y="1593" width="136" height="4" fill="#222"/>
<rect x="1100" y="1593" width="135" height="4" fill="#222"/>
<rect x="930" y="1586" width="16" height="4" fill="#f4f6e4" stroke="#8ab04a" stroke-width="0.8"/>
<rect x="1098" y="1586" width="16" height="4" fill="#f4f6e4" stroke="#8ab04a" stroke-width="0.8"/>
<g fill="none" stroke="#f08c28" stroke-width="1.5">
 <ellipse cx="992" cy="1522" rx="52" ry="45"/><ellipse cx="995" cy="1522" rx="52" ry="45"/>
 <ellipse cx="998" cy="1522" rx="52" ry="45"/><ellipse cx="1001" cy="1522" rx="52" ry="45"/>
 <ellipse cx="1004" cy="1522" rx="52" ry="45"/><ellipse cx="1007" cy="1522" rx="52" ry="45"/>
 <line x1="1053" y1="1388" x2="1053" y2="1520"/>
 <line x1="990" y1="1477" x2="1105" y2="1477"/>
</g>
<path d="M1135,1455 L1152,1468 L1152,1492 L1135,1505 Z M1154,1456 L1161,1456 L1161,1504 L1154,1504 Z M1168,1456 L1175,1456 L1175,1504 L1168,1504 Z M1191,1455 L1177,1468 L1177,1492 L1191,1505 Z" fill="url(#quadG)"/>

<!-- monitor -->
<polygon points="1274,1487 1434,1487 1424,1573 1262,1573" fill="#d8d8d8" stroke="#999" stroke-width="1"/>
<polygon points="1278,1491 1429,1491 1420,1568 1267,1568" fill="#000"/>
<rect x="1324" y="1573" width="37" height="13" fill="#cfcfcf" stroke="#999" stroke-width="0.6"/>
<polygon points="1272,1586 1412,1586 1402,1597 1262,1597" fill="#d6d6d6" stroke="#999" stroke-width="0.8"/>
</svg>
</body></html>
